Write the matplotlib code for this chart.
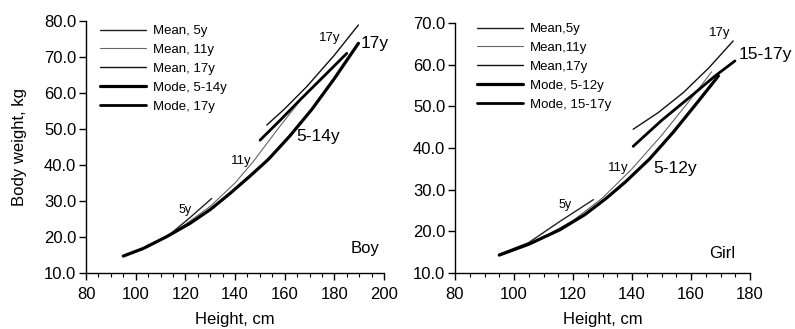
import matplotlib.pyplot as plt
from matplotlib.ticker import MultipleLocator

plt.rcParams['font.family'] = ['Liberation Sans', 'DejaVu Sans']

# ---- Boy panel data (height cm, weight kg) ----
boy_mean5_h = [95, 105, 113, 121.9, 130.6]
boy_mean5_w = [14.7, 17.3, 20.3, 25.4, 30.7]
boy_mean11_h = [112, 120, 130, 140, 147.4, 157, 167.5]
boy_mean11_w = [20.0, 23.5, 28.5, 35.0, 41.0, 49.8, 59.0]
boy_mean17_h = [152.8, 160, 168.8, 180, 189.7]
boy_mean17_w = [51.1, 55.6, 61.7, 70.5, 78.9]
boy_mode514_h = [95, 103, 112.5, 121.9, 130, 138, 146, 153.5, 162, 171, 180, 189.7]
boy_mode514_w = [14.7, 16.8, 20.1, 23.8, 27.6, 32.1, 36.9, 41.6, 48.0, 55.5, 64.0, 73.8]
boy_mode17_h = [150.1, 158, 166.2, 176, 185]
boy_mode17_w = [46.9, 52.3, 58.1, 64.8, 71.0]

# ---- Girl panel data ----
girl_mean5_h = [95, 105, 115.6, 126.9]
girl_mean5_w = [14.5, 17.3, 22.4, 27.6]
girl_mean11_h = [110, 120, 130, 140, 150, 160, 167]
girl_mean11_w = [18.6, 22.6, 28.0, 35.0, 43.0, 51.8, 58.3]
girl_mean17_h = [140.4, 148.9, 157.4, 166, 174.3]
girl_mean17_w = [44.5, 48.5, 53.3, 59.2, 65.7]
girl_mode512_h = [95, 105, 115.6, 124, 131.4, 138, 146, 154, 162, 169.3]
girl_mode512_w = [14.3, 16.9, 20.4, 24.0, 28.0, 32.0, 37.4, 43.8, 50.8, 57.3]
girl_mode1517_h = [140.4, 150, 160.8, 168, 174.9]
girl_mode1517_w = [40.4, 46.6, 52.9, 57.2, 60.9]

boy_labels = ["Mean, 5y", "Mean, 11y", "Mean, 17y", "Mode, 5-14y", "Mode, 17y"]
girl_labels = ["Mean,5y", "Mean,11y", "Mean,17y", "Mode, 5-12y", "Mode, 15-17y"]

styles = [dict(color='#222222', lw=1.0), dict(color='#666666', lw=0.8),
          dict(color='#111111', lw=1.0), dict(color='black', lw=2.3),
          dict(color='black', lw=2.0)]

fig = plt.figure(figsize=(7.95, 3.29), dpi=100)
ax1 = fig.add_axes([86 / 795, 1 - 273 / 329, (384 - 86) / 795, (273 - 21) / 329])
ax2 = fig.add_axes([455 / 795, 1 - 273 / 329, (750 - 455) / 795, (273 - 23) / 329])


def style_axis(ax, xmax, ymax):
    ax.set_xlim(80, xmax)
    ax.set_ylim(10, ymax)
    ax.spines['top'].set_visible(False)
    ax.spines['right'].set_visible(False)
    ax.spines['left'].set_linewidth(1.0)
    ax.spines['bottom'].set_linewidth(1.0)
    ax.xaxis.set_major_locator(MultipleLocator(20))
    ax.xaxis.set_minor_locator(MultipleLocator(5))
    ax.yaxis.set_major_locator(MultipleLocator(10))
    ax.yaxis.set_major_formatter('{x:.1f}')
    ax.tick_params(axis='both', which='major', length=5, width=1.0, labelsize=12, color='black')
    ax.tick_params(axis='x', which='minor', length=3, width=0.8)
    ax.tick_params(axis='x', pad=5)
    ax.tick_params(axis='y', pad=2)
    ax.set_xlabel("Height, cm", fontsize=12, labelpad=7)


series_boy = [(boy_mean5_h, boy_mean5_w), (boy_mean11_h, boy_mean11_w),
              (boy_mean17_h, boy_mean17_w), (boy_mode514_h, boy_mode514_w),
              (boy_mode17_h, boy_mode17_w)]
series_girl = [(girl_mean5_h, girl_mean5_w), (girl_mean11_h, girl_mean11_w),
               (girl_mean17_h, girl_mean17_w), (girl_mode512_h, girl_mode512_w),
               (girl_mode1517_h, girl_mode1517_w)]

for (h, w), lab, st in zip(series_boy, boy_labels, styles):
    ax1.plot(h, w, label=lab, solid_capstyle='round', **st)
for (h, w), lab, st in zip(series_girl, girl_labels, styles):
    ax2.plot(h, w, label=lab, solid_capstyle='round', **st)

style_axis(ax1, 200, 80)
style_axis(ax2, 180, 70)
ax1.set_ylabel("Body weight, kg", fontsize=12, labelpad=12)

leg_kw = dict(frameon=False, fontsize=9.5, handlelength=3.5, handletextpad=0.5,
              labelspacing=0.5, borderpad=0, borderaxespad=0, loc='upper left',
              bbox_transform=fig.transFigure)
ax1.legend(bbox_to_anchor=(100 / 795, 1 - 25 / 329), **leg_kw)
ax2.legend(bbox_to_anchor=(477 / 795, 1 - 23 / 329), **leg_kw)

# annotations, boy
ax1.text(120, 27.6, "5y", fontsize=9, ha='center', va='center')
ax1.text(142.5, 41.0, "11y", fontsize=9.5, ha='center', va='center')
ax1.text(178.3, 75.4, "17y", fontsize=9.5, ha='center', va='center')
ax1.text(190.7, 73.8, "17y", fontsize=12.5, ha='left', va='center')
ax1.text(173.5, 48.0, "5-14y", fontsize=12.5, ha='center', va='center')
ax1.text(192.4, 16.9, "Boy", fontsize=12, ha='center', va='center')

# annotations, girl
ax2.text(117.3, 26.4, "5y", fontsize=9, ha='center', va='center')
ax2.text(135.3, 35.2, "11y", fontsize=9.5, ha='center', va='center')
ax2.text(154.5, 35.0, "5-12y", fontsize=12.5, ha='center', va='center')
ax2.text(169.8, 67.6, "17y", fontsize=9.5, ha='center', va='center')
ax2.text(176.0, 62.5, "15-17y", fontsize=12.5, ha='left', va='center')
ax2.text(170.5, 14.6, "Girl", fontsize=12, ha='center', va='center')

fig.savefig("out.png", dpi=100)
